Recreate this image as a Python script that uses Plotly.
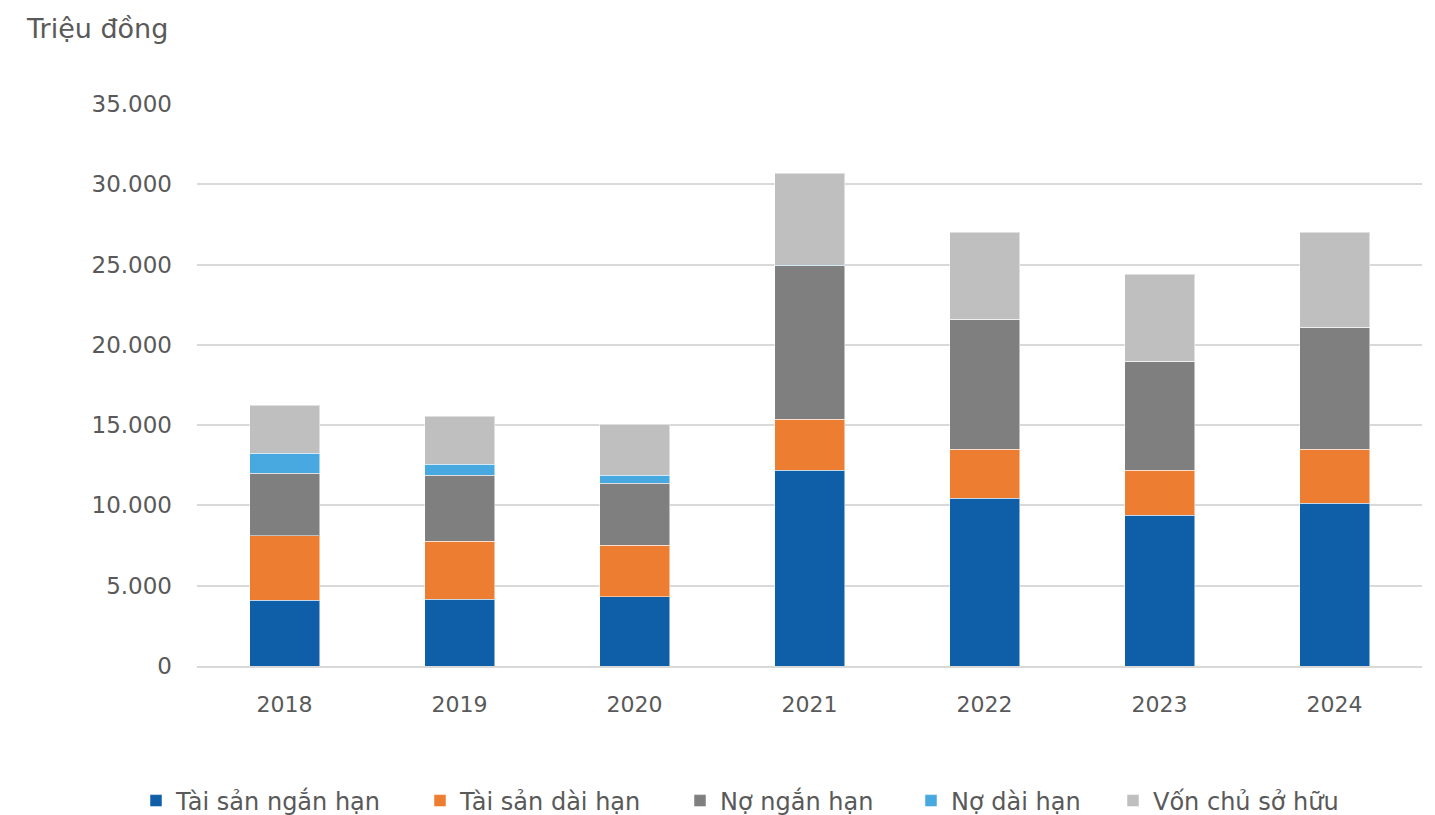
import plotly.graph_objects as go

years = ["2018", "2019", "2020", "2021", "2022", "2023", "2024"]
tai_san_ngan_han = [4100, 4170, 4300, 12200, 10460, 9400, 10150]
tai_san_dai_han = [4000, 3600, 3230, 3180, 3050, 2800, 3360]
no_ngan_han = [3900, 4100, 3860, 9560, 8100, 6790, 7600]
no_dai_han = [1250, 690, 500, 30, 0, 0, 0]
von_chu_so_huu = [3000, 3000, 3180, 5730, 5410, 5420, 5910]

names = ["Tài sản ngắn hạn", "Tài sản dài hạn", "Nợ ngắn hạn", "Nợ dài hạn", "Vốn chủ sở hữu"]
values = [tai_san_ngan_han, tai_san_dai_han, no_ngan_han, no_dai_han, von_chu_so_huu]
colors = ["#0F5EA8", "#ED7D31", "#7F7F7F", "#48A9E0", "#BFBFBF"]
legend_x_px = [128, 412, 672, 903, 1105]

W, H = 1427, 807
FONT = "DejaVu Sans"
fig = go.Figure()
legend_layouts = {}
for i, (name, vals, color, lx) in enumerate(zip(names, values, colors, legend_x_px)):
    key = "legend" if i == 0 else f"legend{i+1}"
    fig.add_trace(go.Bar(
        x=years, y=vals, name=name,
        marker=dict(color=color, line=dict(color="rgba(255,255,255,0.5)", width=1)),
        width=0.4, legend=key, showlegend=True,
    ))
    legend_layouts[key] = dict(
        orientation="h", xref="container", yref="container",
        x=lx / W, xanchor="left", y=14 / H, yanchor="middle",
        font=dict(size=24, color="#595959", family=FONT),
        bgcolor="rgba(0,0,0,0)", visible=True,
    )

fig.update_layout(
    barmode="stack",
    width=W, height=H,
    showlegend=True,
    margin=dict(l=189, r=13, t=96, b=149, autoexpand=False),
    paper_bgcolor="white", plot_bgcolor="white",
    separators=",.",
    font=dict(family=FONT, size=22, color="#595959"),
    annotations=[dict(text="Triệu đồng", xref="paper", yref="paper", x=-0.1412, y=1.1352,
                      xanchor="left", yanchor="middle", showarrow=False,
                      font=dict(size=27, color="#595959", family=FONT))],
    **legend_layouts,
)
fig.update_yaxes(range=[0, 35000], tickvals=[0, 5000, 10000, 15000, 20000, 25000, 30000, 35000],
                 tickformat=",", showgrid=True, gridcolor="#D9D9D9", gridwidth=1.5,
                 zeroline=False, ticks="", ticklabelstandoff=24, automargin=False,
                 tickfont=dict(size=23))
fig.update_xaxes(showline=True, linecolor="#D9D9D9", linewidth=1.5, ticks="",
                 ticklabelstandoff=18, automargin=False)

fig.write_html("out.html")
